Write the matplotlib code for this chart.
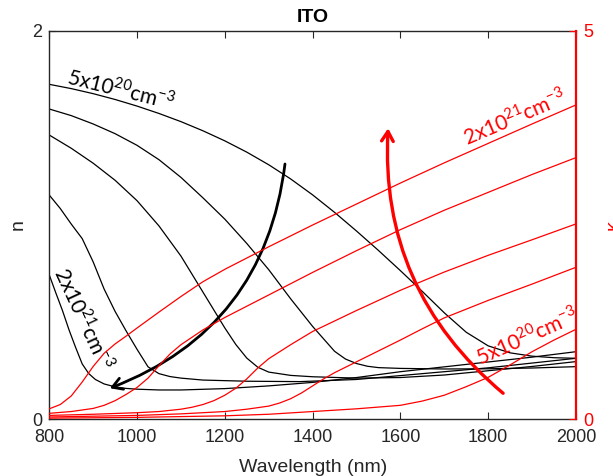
import numpy as np
import matplotlib
matplotlib.use("Agg")
import matplotlib.pyplot as plt

plt.rcParams['font.family'] = ['Liberation Sans', 'DejaVu Sans']

# --- refractive index n (left axis), five carrier densities ---
wl_n1 = [800, 850, 900, 950, 1000, 1050, 1100, 1150, 1200, 1250, 1300, 1350, 1400,
         1450, 1500, 1550, 1600, 1650, 1700, 1750, 1800, 1850, 1900, 1950, 2000]
n1 = [1.724, 1.702, 1.676, 1.646, 1.612, 1.574, 1.532, 1.485, 1.433, 1.375, 1.310,
      1.237, 1.155, 1.065, 0.969, 0.869, 0.765, 0.658, 0.548, 0.448, 0.378, 0.342,
      0.325, 0.317, 0.314]

wl_n2 = [800, 850, 900, 950, 1000, 1050, 1100, 1150, 1200, 1250, 1300, 1350, 1400,
         1450, 1475, 1500, 1525, 1550, 1600, 1700, 1800, 1900, 2000]
n2 = [1.597, 1.563, 1.520, 1.470, 1.410, 1.336, 1.245, 1.140, 1.030, 0.905, 0.770,
      0.620, 0.478, 0.350, 0.310, 0.287, 0.273, 0.266, 0.262, 0.259, 0.260, 0.264,
      0.271]

wl_n3 = [800, 850, 900, 950, 1000, 1050, 1100, 1150, 1200, 1225, 1250, 1275, 1300,
         1350, 1400, 1500, 1600, 1700, 1800, 1900, 2000]
n3 = [1.463, 1.395, 1.318, 1.230, 1.125, 0.995, 0.840, 0.655, 0.470, 0.385, 0.315,
      0.268, 0.243, 0.226, 0.219, 0.212, 0.215, 0.228, 0.250, 0.272, 0.297]

wl_n4 = [800, 825, 850, 875, 900, 925, 950, 975, 1000, 1025, 1050, 1075, 1100, 1150,
         1250, 1371, 1500, 1600, 1800, 2000]
n4 = [1.154, 1.085, 1.005, 0.930, 0.810, 0.670, 0.555, 0.455, 0.360, 0.270, 0.235,
      0.220, 0.212, 0.202, 0.196, 0.194, 0.205, 0.225, 0.265, 0.314]

wl_n5 = [800, 815, 830, 845, 860, 875, 890, 905, 925, 950, 975, 1000, 1050, 1100,
         1200, 1300, 1400, 1500, 1600, 1700, 1800, 1900, 2000]
n5 = [0.743, 0.650, 0.560, 0.460, 0.370, 0.285, 0.235, 0.205, 0.182, 0.167, 0.159,
      0.155, 0.151, 0.151, 0.158, 0.172, 0.190, 0.215, 0.245, 0.270, 0.295, 0.320,
      0.348]

# --- extinction coefficient k (right axis) ---
wl_k1 = [800, 1000, 1200, 1300, 1400, 1500, 1600, 1650, 1700, 1750, 1800, 1850,
         1900, 1950, 2000]
k1 = [0.015, 0.025, 0.045, 0.065, 0.100, 0.135, 0.180, 0.235, 0.310, 0.420, 0.540,
      0.700, 0.870, 1.020, 1.158]

wl_k2 = [800, 1000, 1100, 1200, 1250, 1300, 1325, 1350, 1375, 1400, 1425, 1450,
         1500, 1550, 1600, 1650, 1700, 1800, 1900, 2000]
k2 = [0.030, 0.050, 0.070, 0.100, 0.130, 0.170, 0.210, 0.265, 0.340, 0.430, 0.520,
      0.600, 0.740, 0.880, 1.020, 1.165, 1.305, 1.530, 1.740, 1.956]

wl_k3 = [800, 900, 1000, 1050, 1100, 1125, 1150, 1175, 1200, 1225, 1250, 1275, 1300,
         1350, 1400, 1500, 1600, 1700, 1800, 1900, 2000]
k3 = [0.050, 0.065, 0.085, 0.100, 0.130, 0.155, 0.190, 0.240, 0.310, 0.400, 0.520,
      0.660, 0.780, 0.960, 1.130, 1.400, 1.660, 1.895, 2.110, 2.310, 2.514]

wl_k4 = [800, 850, 900, 925, 950, 975, 1000, 1025, 1050, 1075, 1100, 1150, 1200,
         1300, 1400, 1500, 1600, 1700, 1800, 1900, 2000]
k4 = [0.077, 0.100, 0.140, 0.180, 0.240, 0.320, 0.410, 0.530, 0.690, 0.840, 0.960,
      1.150, 1.310, 1.600, 1.890, 2.170, 2.440, 2.690, 2.920, 3.150, 3.367]

wl_k5 = [800, 825, 850, 875, 900, 925, 950, 975, 1000, 1050, 1100, 1150, 1200, 1300,
         1400, 1500, 1600, 1700, 1800, 1900, 2000]
k5 = [0.135, 0.190, 0.300, 0.480, 0.680, 0.850, 0.970, 1.070, 1.175, 1.380, 1.580,
      1.770, 1.930, 2.220, 2.500, 2.770, 3.040, 3.300, 3.550, 3.800, 4.045]

n_curves = [(wl_n1, n1), (wl_n2, n2), (wl_n3, n3), (wl_n4, n4), (wl_n5, n5)]
k_curves = [(wl_k1, k1), (wl_k2, k2), (wl_k3, k3), (wl_k4, k4), (wl_k5, k5)]

dark = '#262626'

fig = plt.figure(figsize=(6.13, 4.76), dpi=100)
ax = fig.add_axes([0.0804, 0.1191, 0.8592, 0.8164])
ax2 = ax.twinx()

for wl, n in n_curves:
    ax.plot(wl, n, color='black', lw=0.9)
for wl, k in k_curves:
    ax2.plot(wl, k, color='red', lw=0.9)

ax.set_xlim(800, 2000)
ax.set_ylim(0, 2)
ax2.set_ylim(0, 5)
ax.set_xticks(np.arange(800, 2001, 200))
ax.set_yticks([0, 2])
ax2.set_yticks([0, 5])

ax.tick_params(direction='in', top=True, length=5, width=0.8, colors=dark,
               labelsize=13, pad=7)
ax.tick_params(axis='y', pad=5)
ax2.tick_params(direction='in', length=5, width=0.8, colors='red',
                labelsize=13, pad=5)

for s in ['left', 'top', 'bottom']:
    ax.spines[s].set_color(dark)
    ax.spines[s].set_linewidth(1.0)
    ax2.spines[s].set_visible(False)
ax.spines['right'].set_visible(False)
ax2.spines['right'].set_color('red')
ax2.spines['right'].set_linewidth(1.6)

ax.set_title('ITO', fontsize=14, fontweight='bold', color='black', pad=6)
ax.set_xlabel('Wavelength (nm)', fontsize=14, color=dark, labelpad=9)
ax.set_ylabel('n', fontsize=14, color=dark, labelpad=4)
ax2.set_ylabel('κ', fontsize=14, color='red', rotation=90, labelpad=8)

# carrier density labels
lab = dict(family='Lato', fontsize=15, ha='center', va='center',
           rotation_mode='anchor')
ax.text(963, 1.70, '5x10$^{\\mathregular{20}}$cm$^{\\mathregular{-3}}$',
        rotation=-14, color='black', **lab)
ax.text(879, 0.521, '2x10$^{\\mathregular{21}}$cm$^{\\mathregular{-3}}$',
        rotation=-65, color='black', **lab)
ax2.text(1861, 3.89, '2x10$^{\\mathregular{21}}$cm$^{\\mathregular{-3}}$',
         rotation=23, color='red', **lab)
ax2.text(1888, 1.072, '5x10$^{\\mathregular{20}}$cm$^{\\mathregular{-3}}$',
         rotation=24, color='red', **lab)

# trend arrows
ax.annotate('', xy=(938, 0.160), xytext=(1337, 1.314),
            arrowprops=dict(arrowstyle='->,head_length=0.5,head_width=0.3',
                            color='black', lw=2.0, shrinkA=0, shrinkB=0,
                            mutation_scale=14,
                            connectionstyle='arc3,rad=-0.3'))
ax2.annotate('', xy=(1572, 3.745), xytext=(1834, 0.335),
             arrowprops=dict(arrowstyle='->,head_length=0.5,head_width=0.3',
                             color='red', lw=2.4, shrinkA=0, shrinkB=0,
                             mutation_scale=14,
                             connectionstyle='arc3,rad=-0.25'))

fig.savefig('out.png', dpi=100)
